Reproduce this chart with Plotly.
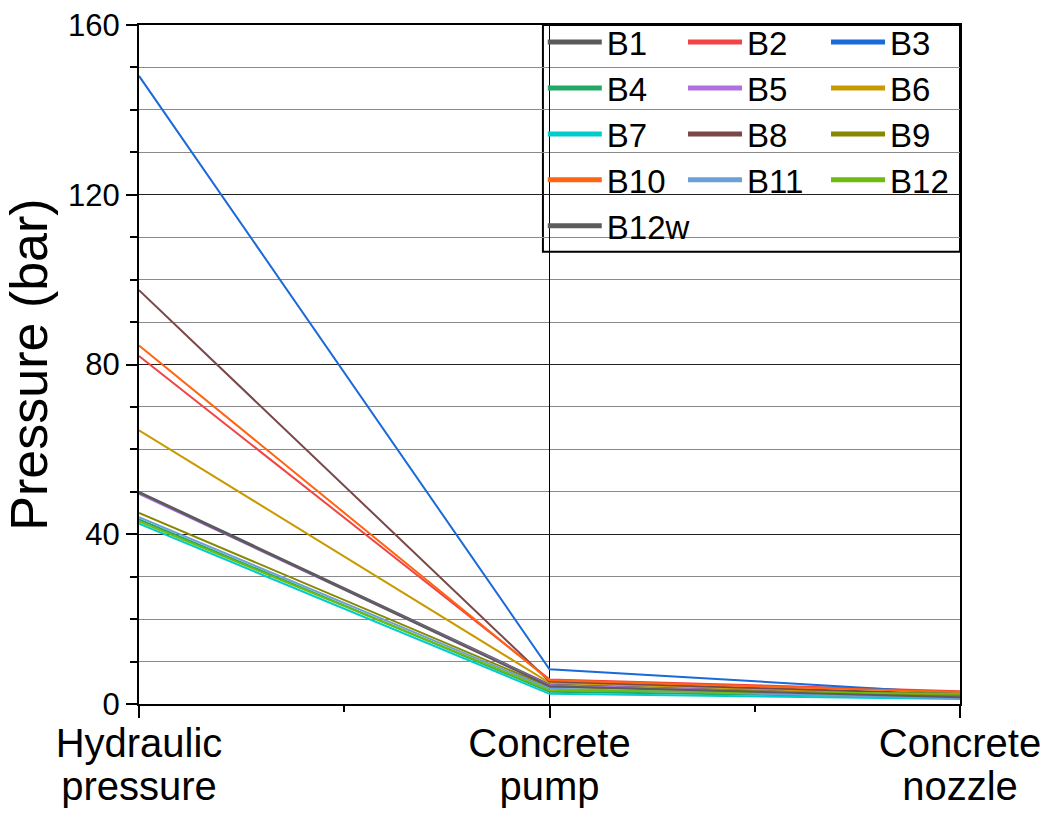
import plotly.graph_objects as go

cat_line1 = ["Hydraulic", "Concrete", "Concrete"]
cat_line2 = ["pressure", "pump", "nozzle"]
series_names = ["B1", "B2", "B3", "B4", "B5", "B6", "B7", "B8", "B9", "B10", "B11", "B12", "B12w"]
hydraulic = [50.0, 82.0, 148.0, 43.5, 49.5, 64.5, 42.5, 97.5, 45.0, 84.5, 44.0, 43.0, 49.8]
pump = [4.6, 5.8, 8.2, 2.9, 4.4, 5.0, 2.4, 5.3, 4.0, 5.6, 3.6, 3.2, 4.2]
nozzle = [1.8, 3.0, 2.5, 1.5, 1.7, 2.2, 1.2, 2.3, 2.0, 2.8, 1.3, 2.4, 1.6]
colors = ["#5a5a5a", "#f24444", "#1a6ad8", "#22a865", "#b070e0", "#c99a00",
          "#00cccc", "#7a4848", "#888800", "#ff6412", "#6aa0d6", "#6cbd10", "#5c5c5c"]
legend_of = ["legend", "legend2", "legend3"] * 4 + ["legend"]

FONT = "Liberation Sans, Arial, sans-serif"
xpos = list(range(len(cat_line1)))

fig = go.Figure()
for i, name in enumerate(series_names):
    fig.add_trace(go.Scatter(
        x=xpos, y=[hydraulic[i], pump[i], nozzle[i]],
        mode="lines", line=dict(color=colors[i], width=2),
        name=name, showlegend=False, hoverinfo="skip"))
for i, name in enumerate(series_names):
    fig.add_trace(go.Scatter(
        x=[None], y=[None], mode="lines",
        line=dict(color=colors[i], width=5),
        name=name, showlegend=True, legend=legend_of[i]))
# invisible traces so the label axes (two lines of category text) are drawn
fig.add_trace(go.Scatter(x=xpos, y=[None] * len(xpos), xaxis="x2", showlegend=False,
                         mode="lines", hoverinfo="skip"))
fig.add_trace(go.Scatter(x=xpos, y=[None] * len(xpos), xaxis="x3", showlegend=False,
                         mode="lines", hoverinfo="skip"))

leg_common = dict(font=dict(family=FONT, size=33, color="black"),
                  bgcolor="rgba(0,0,0,0)", borderwidth=0,
                  yanchor="top", xanchor="left", orientation="v",
                  tracegroupgap=0, itemwidth=54)
label_axis = dict(range=[0, 2], overlaying="x", side="bottom", anchor="y",
                  tickmode="array", tickvals=xpos,
                  tickfont=dict(family=FONT, size=40, color="black"),
                  showline=False, ticks="", showgrid=False, zeroline=False,
                  fixedrange=True, automargin=False)
fig.update_layout(
    width=1048, height=814,
    margin=dict(l=139, r=88, t=25, b=110),
    paper_bgcolor="white", plot_bgcolor="white",
    font=dict(family=FONT, color="black"),
    showlegend=True,
    legend=dict(x=0.4918, y=1.016, **leg_common),
    legend2=dict(x=0.6626, y=1.016, **leg_common),
    legend3=dict(x=0.8368, y=1.016, **leg_common),
    xaxis=dict(
        range=[0, 2], tickmode="array", tickvals=xpos, showticklabels=False,
        showline=True, linecolor="black", linewidth=2, mirror=True,
        ticks="outside", ticklen=12, tickwidth=1.5, tickcolor="black",
        showgrid=True, gridcolor="black", gridwidth=1,
        minor=dict(tickmode="linear", tick0=0, dtick=0.5, ticks="outside",
                   ticklen=6, tickcolor="black", showgrid=False),
        zeroline=False, fixedrange=True, automargin=False),
    xaxis2=dict(ticktext=cat_line1, ticklabelstandoff=12, **label_axis),
    xaxis3=dict(ticktext=cat_line2, ticklabelstandoff=55, **label_axis),
    yaxis=dict(
        range=[0, 160], tickmode="linear", tick0=0, dtick=40,
        tickfont=dict(family=FONT, size=31, color="black"),
        title=dict(text="Pressure (bar)", font=dict(family=FONT, size=52, color="black"), standoff=11),
        showline=True, linecolor="black", linewidth=2, mirror=True,
        ticks="outside", ticklen=11, tickwidth=1.5, tickcolor="black",
        showgrid=True, gridcolor="#222222", gridwidth=1,
        minor=dict(tickmode="linear", tick0=0, dtick=10, ticks="outside",
                   ticklen=7, tickcolor="black", showgrid=True,
                   gridcolor="#8a8a8a", gridwidth=1),
        zeroline=False, fixedrange=True, automargin=False),
    shapes=[dict(type="rect", xref="paper", yref="paper",
                 x0=0.492, x1=1.0, y0=0.666, y1=1.0,
                 line=dict(color="black", width=2), fillcolor="white", layer="below")],
)

fig.write_html("out.html")
